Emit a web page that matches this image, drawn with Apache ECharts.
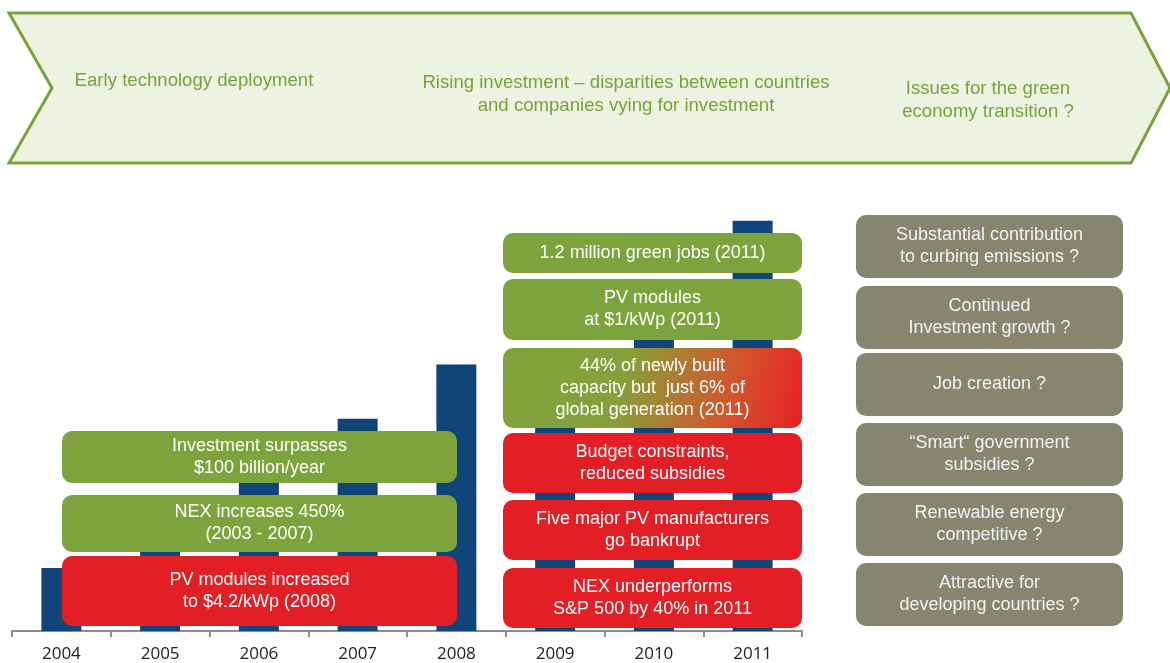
<!DOCTYPE html>
<html>
<head>
<meta charset="utf-8">
<script src="https://cdn.jsdelivr.net/npm/echarts@6/dist/echarts.min.js"></script>
<style>
  html, body { margin: 0; padding: 0; background: #fff; }
  #chart { width: 1170px; height: 663px; }
</style>
</head>
<body>
<div id="chart"></div>
<script>
// investment per year (bar heights, $ billion)
const years = ['2004', '2005', '2006', '2007', '2008', '2009', '2010', '2011']
const investment = [39.5, 64, 107, 133, 167, 168, 219, 257]

const phases = [
  'Early technology deployment',
  'Rising investment \u2013 disparities between countries\nand companies vying for investment',
  'Issues for the green\neconomy transition ?',
]

// notes over 2004-2008, top to bottom; kind: good / bad
const earlyNotes = ['Investment surpasses\n$100 billion/year', 'NEX increases 450%\n(2003 - 2007)', 'PV modules increased\nto $4.2/kWp (2008)']
const earlyKinds = ['good', 'good', 'bad']

// notes over 2009-2011
const lateNotes = [
  '1.2 million green jobs (2011)',
  'PV modules\nat $1/kWp (2011)',
  '44% of newly built\ncapacity but  just 6% of\nglobal generation (2011)',
  'Budget constraints,\nreduced subsidies',
  'Five major PV manufacturers\ngo bankrupt',
  'NEX underperforms\nS&P 500 by 40% in 2011',
]
const lateKinds = ['good', 'good', 'mixed', 'bad', 'bad', 'bad']

const questions = [
  'Substantial contribution\nto curbing emissions ?',
  'Continued\nInvestment growth ?',
  'Job creation ?',
  '\u201cSmart\u201c government\nsubsidies ?',
  'Renewable energy\ncompetitive ?',
  'Attractive for\ndeveloping countries ?',
]

const GREEN = '#7da43c'
const RED = '#e31e25'
const GREY = '#86856f'
const FONT = '"Liberation Sans", Arial, sans-serif'

function fillFor(kind) {
  if (kind === 'good') return GREEN
  if (kind === 'bad') return RED
  return new echarts.graphic.LinearGradient(0, 0, 1, 1, [
    { offset: 0, color: '#7ea33c' },
    { offset: 0.4, color: '#86a03a' },
    { offset: 0.75, color: '#d4552b' },
    { offset: 1, color: '#e61f26' },
  ])
}

function box(x, y, w, h, text, fill, textColor) {
  return [
    { type: 'rect', z: 100, shape: { x, y, width: w, height: h, r: 10 }, style: { fill } },
    {
      type: 'text',
      z: 101,
      style: {
        x: x + w / 2, y: y + h / 2, text, fill: textColor,
        font: '18px ' + FONT, lineHeight: 22,
        align: 'center', verticalAlign: 'middle',
      },
    },
  ]
}

const graphics = []

// banner chevron
graphics.push({
  type: 'polygon',
  z: 50,
  shape: { points: [[9, 13], [1131, 13], [1170, 88], [1131, 163], [9, 163], [52, 88]] },
  style: { fill: '#edf2e1', stroke: '#7aa33a', lineWidth: 3 },
})
const phaseX = [194, 626, 988]
const phaseY = [81, 94, 100]
phases.forEach((t, i) => {
  graphics.push({
    type: 'text', z: 60,
    style: { x: phaseX[i], y: phaseY[i], text: t, fill: '#78a33a', font: '18.6px ' + FONT, lineHeight: 23, align: 'center', verticalAlign: 'middle' },
  })
})

const earlyTops = [431, 495, 556]
const earlyBottoms = [483, 552, 626]
earlyNotes.forEach((t, i) => {
  graphics.push(...box(62, earlyTops[i], 395, earlyBottoms[i] - earlyTops[i], t, fillFor(earlyKinds[i]), '#fff'))
})

const lateTops = [233, 279, 348, 433, 500, 568]
const lateBottoms = [273, 340, 428, 493, 560, 628]
lateNotes.forEach((t, i) => {
  graphics.push(...box(503, lateTops[i], 299, lateBottoms[i] - lateTops[i], t, fillFor(lateKinds[i]), '#fff'))
})

const qTops = [215, 286, 353, 423, 493, 563]
questions.forEach((t, i) => {
  graphics.push(...box(856, qTops[i], 267, 63, t, GREY, '#f2f2f2'))
})

const chart = echarts.init(document.getElementById('chart'))
chart.setOption({
  animation: false,
  backgroundColor: '#fff',
  grid: { left: 12, right: 368, top: 216, bottom: 32, outerBoundsMode: 'none', containLabel: false },
  xAxis: {
    type: 'category',
    data: years,
    axisLine: { lineStyle: { color: '#8c8c8c', width: 2 } },
    axisTick: { show: true, length: 6, lineStyle: { color: '#8c8c8c', width: 2 } },
    axisLabel: { color: '#222', fontSize: 17, fontFamily: '"Open Sans", sans-serif', margin: 15 },
  },
  yAxis: { type: 'value', min: 0, max: 260, show: false, splitLine: { show: false } },
  series: [
    { type: 'bar', data: investment, barWidth: 40, itemStyle: { color: '#11457a' }, z: 1 },
  ],
  graphic: graphics,
})
</script>
</body>
</html>
